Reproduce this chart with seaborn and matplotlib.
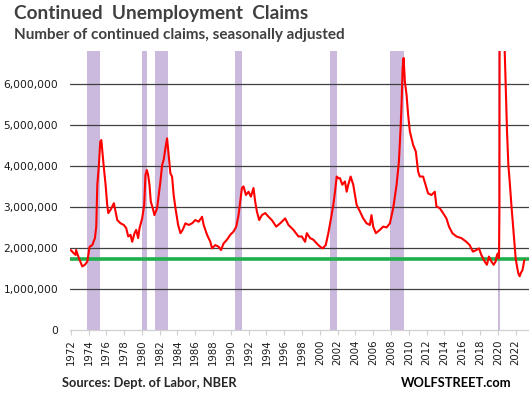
import numpy as np
import pandas as pd
import matplotlib
matplotlib.use('Agg')
import matplotlib.pyplot as plt
import seaborn as sns
from matplotlib.ticker import FuncFormatter

sns.set_theme(style='white')

# continued claims (year, millions)
years = [1972.0, 1972.3, 1972.55, 1972.6, 1972.92, 1973.3, 1973.6, 1973.87,
         1974.12, 1974.43, 1974.72, 1974.87, 1974.99, 1975.17, 1975.32, 1975.44,
         1975.62, 1975.73, 1975.92, 1976.1, 1976.22, 1976.48, 1976.85, 1977.04,
         1977.23, 1977.6, 1977.97, 1978.24, 1978.46, 1978.72, 1978.91, 1979.17,
         1979.36, 1979.58, 1979.73, 1980.03, 1980.26, 1980.4, 1980.55, 1980.7,
         1980.85, 1981.0, 1981.22, 1981.41, 1981.71, 1981.89, 1982.08, 1982.27,
         1982.45, 1982.64, 1982.83, 1983.0, 1983.2, 1983.39, 1983.57, 1983.77,
         1984.07, 1984.33, 1984.58, 1984.89, 1985.26, 1985.64, 1986.0, 1986.38,
         1986.76, 1986.94, 1987.32, 1987.69, 1987.88, 1988.25, 1988.62, 1988.89,
         1989.18, 1989.56, 1989.93, 1990.3, 1990.6, 1990.86, 1991.05, 1991.24,
         1991.42, 1991.69, 1991.98, 1992.25, 1992.54, 1992.73, 1992.92, 1993.18,
         1993.48, 1993.86, 1994.23, 1994.6, 1995.09, 1995.54, 1996.1, 1996.47,
         1997.03, 1997.59, 1997.97, 1998.34, 1998.53, 1998.9, 1999.27, 1999.65,
         2000.02, 2000.32, 2000.66, 2000.95, 2001.25, 2001.51, 2001.7, 2001.89,
         2002.07, 2002.26, 2002.52, 2002.82, 2003.01, 2003.19, 2003.46, 2003.75,
         2004.13, 2004.5, 2004.87, 2005.25, 2005.62, 2005.8, 2005.99, 2006.29,
         2006.74, 2007.12, 2007.5, 2007.87, 2008.24, 2008.62, 2008.88, 2009.07,
         2009.18, 2009.3, 2009.41, 2009.55, 2009.74, 2009.92, 2010.11, 2010.48,
         2010.78, 2011.04, 2011.23, 2011.6, 2011.98, 2012.16, 2012.54, 2012.91,
         2013.1, 2013.47, 2013.84, 2014.22, 2014.51, 2014.89, 2015.34, 2015.9,
         2016.46, 2016.83, 2017.2, 2017.58, 2017.88, 2018.14, 2018.52, 2018.77,
         2019.0, 2019.27, 2019.53, 2019.75, 2019.9, 2020.02, 2020.13, 2020.18,
         2020.22, 2020.3, 2020.4, 2020.55, 2020.7, 2020.77, 2020.88, 2021.03,
         2021.18, 2021.33, 2021.52, 2021.7, 2021.89, 2022.0, 2022.15, 2022.3,
         2022.45, 2022.6, 2022.75, 2022.85, 2022.95, 2023.0]
claims = [1.95, 1.88, 1.83, 1.95, 1.75, 1.55, 1.59, 1.67,
          2.03, 2.07, 2.24, 2.52, 3.54, 4.02, 4.59, 4.63,
          4.19, 3.94, 3.54, 3.05, 2.85, 2.93, 3.09, 2.89,
          2.68, 2.60, 2.56, 2.48, 2.28, 2.32, 2.15, 2.36,
          2.44, 2.24, 2.48, 2.72, 3.05, 3.78, 3.90, 3.78,
          3.54, 3.13, 2.97, 2.80, 2.97, 3.29, 3.62, 4.02,
          4.15, 4.43, 4.67, 4.27, 3.82, 3.74, 3.29, 2.97,
          2.56, 2.36, 2.44, 2.60, 2.56, 2.60, 2.68, 2.64,
          2.76, 2.56, 2.32, 2.15, 1.99, 2.07, 2.03, 1.95,
          2.11, 2.20, 2.32, 2.40, 2.52, 2.80, 3.13, 3.46,
          3.50, 3.29, 3.37, 3.25, 3.46, 3.13, 2.89, 2.68,
          2.80, 2.85, 2.76, 2.68, 2.52, 2.60, 2.72, 2.56,
          2.44, 2.28, 2.28, 2.15, 2.36, 2.24, 2.20, 2.11,
          2.03, 1.99, 2.07, 2.36, 2.72, 3.05, 3.37, 3.74,
          3.70, 3.70, 3.54, 3.62, 3.37, 3.54, 3.74, 3.54,
          3.05, 2.89, 2.72, 2.60, 2.56, 2.80, 2.52, 2.36,
          2.44, 2.52, 2.50, 2.60, 2.97, 3.54, 4.10, 4.92,
          5.49, 6.38, 6.63, 6.06, 5.73, 5.24, 4.84, 4.51,
          4.35, 3.86, 3.74, 3.74, 3.46, 3.33, 3.29, 3.37,
          3.01, 2.97, 2.85, 2.72, 2.52, 2.36, 2.28, 2.24,
          2.15, 2.07, 1.91, 1.95, 1.99, 1.83, 1.67, 1.59,
          1.79, 1.67, 1.59, 1.67, 1.83, 1.87, 1.75, 3.0,
          12.0, 20.0, 23.0, 17.0, 10.0, 6.8, 5.98, 4.84,
          4.02, 3.62, 3.05, 2.56, 2.07, 1.75, 1.55, 1.38,
          1.31, 1.40, 1.45, 1.55, 1.68, 1.70]

# NBER recessions (start, end)
rec_start = [1973.85, 1980.05, 1981.5, 1990.47, 2001.12, 2007.85, 2020.03]
rec_end = [1975.3, 1980.6, 1982.93, 1991.26, 2001.9, 2009.42, 2020.25]

level_line = 1.72  # green reference line, millions

x_ticks = list(range(1972, 2023, 2))
y_ticks = [0, 1, 2, 3, 4, 5, 6]

df = pd.DataFrame({'year': years, 'claims': np.array(claims) * 1e6})

fig = plt.figure(figsize=(5.29, 3.95), dpi=100)
ax = fig.add_axes([70/529, 65/395, 459/529, 279/395])

for s, e in zip(rec_start, rec_end):
    ax.axvspan(s, e, color='#CBB9DE', lw=0, zorder=0.1)

sns.lineplot(data=df, x='year', y='claims', color='#FF0000', linewidth=1.5,
             ax=ax, zorder=4)
ax.axhline(level_line * 1e6, color='#1FAF4B', linewidth=2.6, zorder=3)

ax.set_xlim(1971.92, 2023.5)
ax.set_ylim(0, 6.8e6)
ax.set_xticks(x_ticks)
ax.set_xticklabels([str(y) for y in x_ticks], rotation=90, fontsize=7.3,
                   color='#1a1a1a')
ax.set_yticks([v * 1e6 for v in y_ticks])
ax.yaxis.set_major_formatter(FuncFormatter(lambda v, p: f'{int(v):,}'))
ax.tick_params(axis='y', length=0, pad=8.5, labelsize=7.7, labelcolor='#1a1a1a')
ax.tick_params(axis='x', length=3.6, width=0.8, color='#D0D0D0', direction='out',
               pad=3, bottom=True)

ax.set_axisbelow(True)
ax.yaxis.grid(True, color='#404040', linewidth=0.9)
ax.xaxis.grid(False)
ax.yaxis.get_gridlines()[0].set_visible(False)
for side in ['left', 'top', 'right']:
    ax.spines[side].set_visible(False)
ax.spines['bottom'].set_color('#D0D0D0')
ax.spines['bottom'].set_linewidth(0.9)
ax.set_xlabel('')
ax.set_ylabel('')

fig.text(14/529, 1 - 19.5/395, 'Continued  Unemployment  Claims', fontsize=13.7,
         fontweight='bold', color='#404040', family='Lato', va='baseline')
fig.text(14/529, 1 - 38.5/395, 'Number of continued claims, seasonally adjusted',
         fontsize=11, fontweight='bold', color='#404040', family='Lato',
         va='baseline')
fig.text(62/529, 1 - 387/395, 'Sources: Dept. of Labor, NBER', fontsize=9.3,
         fontweight='bold', color='#262626', family='Lato', va='baseline')
fig.text(512/529, 1 - 387/395, 'WOLFSTREET.com', fontsize=9.3, fontweight='bold',
         color='#000000', family='Lato', va='baseline', ha='right')

fig.savefig('out.png', dpi=100)
